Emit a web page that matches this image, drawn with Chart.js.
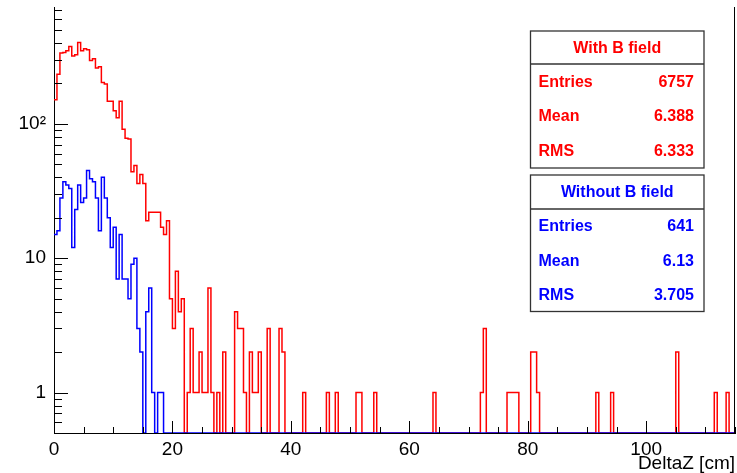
<!DOCTYPE html>
<html>
<head>
<meta charset="utf-8">
<script src="https://cdn.jsdelivr.net/npm/chart.js@4/dist/chart.umd.min.js"></script>
<style>
  html, body { margin: 0; padding: 0; background: #fff; }
  #wrap { width: 737px; height: 473px; }
</style>
</head>
<body>
<div id="wrap"><canvas id="c" width="737" height="473"></canvas></div>
<script>
// Histogram binning: 230 bins of 0.5 cm between 0 and 115 cm
const X_MIN = 0;
const X_MAX = 115;
const BIN_WIDTH = 0.5;
const Y_MIN = 0.5;
const Y_MAX = 740;

const xTickValues = [0, 20, 40, 60, 80, 100];
const yTickValues = [1, 10, 100];
const yTickLabels = ['1', '10', '10²'];

// DeltaZ counts per bin, with magnetic field
const withBField = [
  151, 234, 336, 340, 350, 376, 320, 326, 402, 350,
  362, 355, 296, 305, 260, 266, 203, 198, 147, 147,
  125, 111, 147, 91, 78, 77, 44, 49, 36, 42,
  36, 19, 22, 22, 22, 22, 17, 15, 19, 5,
  3, 8, 4, 5, 0, 1, 3, 1, 1, 2,
  1, 1, 6, 1, 0, 1, 0, 2, 0, 0,
  0, 4, 3, 3, 1, 0, 2, 1, 1, 2,
  0, 0, 3, 0, 0, 0, 3, 2, 0, 0,
  0, 0, 0, 0, 1, 0, 0, 0, 0, 0,
  0, 0, 1, 0, 0, 1, 0, 0, 0, 0,
  0, 0, 1, 1, 0, 0, 0, 0, 1, 0,
  0, 0, 0, 0, 0, 0, 0, 0, 0, 0,
  0, 0, 0, 0, 0, 0, 0, 0, 1, 0,
  0, 0, 0, 0, 0, 0, 0, 0, 0, 0,
  0, 0, 0, 0, 1, 3, 0, 0, 0, 0,
  0, 0, 0, 1, 1, 1, 1, 0, 0, 0,
  0, 2, 2, 1, 0, 0, 0, 0, 0, 0,
  0, 0, 0, 0, 0, 0, 0, 0, 0, 0,
  0, 0, 0, 1, 0, 0, 0, 0, 1, 0,
  0, 0, 0, 0, 0, 0, 0, 0, 0, 0,
  0, 0, 0, 0, 0, 0, 0, 0, 0, 0,
  2, 0, 0, 0, 0, 0, 0, 0, 0, 0,
  0, 0, 0, 1, 0, 0, 0, 1, 0, 0
];

// DeltaZ counts per bin, without magnetic field
const withoutBField = [
  15, 16, 28, 37, 35, 33, 12, 23, 35, 26,
  28, 45, 39, 37, 28, 16, 40, 28, 20, 12,
  17, 7, 15, 7, 7, 5, 9, 10, 3, 2,
  0, 4, 6, 1, 0, 1, 1, 0, 0, 0,
  0, 0, 0, 0, 0, 0, 0, 0, 0, 0,
  0, 0, 0, 0, 0, 0, 0, 0, 0, 0,
  0, 0, 0, 0, 0, 0, 0, 0, 0, 0,
  0, 0, 0, 0, 0, 0, 0, 0, 0, 0,
  0, 0, 0, 0, 0, 0, 0, 0, 0, 0,
  0, 0, 0, 0, 0, 0, 0, 0, 0, 0,
  0, 0, 0, 0, 0, 0, 0, 0, 0, 0,
  0, 0, 0, 0, 0, 0, 0, 0, 0, 0,
  0, 0, 0, 0, 0, 0, 0, 0, 0, 0,
  0, 0, 0, 0, 0, 0, 0, 0, 0, 0,
  0, 0, 0, 0, 0, 0, 0, 0, 0, 0,
  0, 0, 0, 0, 0, 0, 0, 0, 0, 0,
  0, 0, 0, 0, 0, 0, 0, 0, 0, 0,
  0, 0, 0, 0, 0, 0, 0, 0, 0, 0,
  0, 0, 0, 0, 0, 0, 0, 0, 0, 0,
  0, 0, 0, 0, 0, 0, 0, 0, 0, 0,
  0, 0, 0, 0, 0, 0, 0, 0, 0, 0,
  0, 0, 0, 0, 0, 0, 0, 0, 0, 0,
  0, 0, 0, 0, 0, 0, 0, 0, 0, 0
];

const statLabels = ['Entries', 'Mean', 'RMS'];
const statsWithB = ['6757', '6.388', '6.333'];
const statsWithoutB = ['641', '6.13', '3.705'];

const RED = '#ff0000';
const BLUE = '#0000ff';
const FONT = '"Liberation Sans", Arial, Helvetica, sans-serif';

// Step outline: one point per left bin edge, plus the closing right edge.
// Empty bins sit on the floor of the log axis, as ROOT draws them.
function histogramSteps(counts) {
  const pts = counts.map((c, i) => ({ x: X_MIN + i * BIN_WIDTH, y: Math.max(c, Y_MIN) }));
  pts.push({ x: X_MIN + counts.length * BIN_WIDTH, y: Math.max(counts[counts.length - 1], Y_MIN) });
  return pts;
}

function strokeLine(ctx, x1, y1, x2, y2) {
  ctx.beginPath();
  ctx.moveTo(x1, y1);
  ctx.lineTo(x2, y2);
  ctx.stroke();
}

function drawStatsBox(ctx, box, title, values, color) {
  ctx.save();
  ctx.fillStyle = '#fff';
  ctx.fillRect(box.left, box.top, box.right - box.left, box.bottom - box.top);
  ctx.strokeStyle = '#333';
  ctx.lineWidth = 1.3;
  ctx.strokeRect(box.left, box.top, box.right - box.left, box.bottom - box.top);
  strokeLine(ctx, box.left, box.sep, box.right, box.sep);
  ctx.fillStyle = color;
  ctx.font = 'bold 16px ' + FONT;
  ctx.textBaseline = 'middle';
  ctx.textAlign = 'center';
  ctx.fillText(title, (box.left + box.right) / 2, (box.top + box.sep) / 2 + 1);
  const rowH = (box.bottom - box.sep) / statLabels.length;
  statLabels.forEach((lab, i) => {
    const yy = box.sep + rowH * (i + 0.5) + 1;
    ctx.textAlign = 'left';
    ctx.fillText(lab, box.left + 8, yy);
    ctx.textAlign = 'right';
    ctx.fillText(values[i], box.right - 10, yy);
  });
  ctx.restore();
}

const frameAndStats = {
  id: 'frameAndStats',
  afterDraw(chart) {
    const { ctx, chartArea: a, scales: { x, y } } = chart;
    ctx.save();
    ctx.strokeStyle = '#000';
    ctx.lineWidth = 1;

    // x-axis ticks drawn inward: long every 20, short every 5
    for (let v = X_MIN; v <= X_MAX; v += 5) {
      const px = Math.round(x.getPixelForValue(v)) + 0.5;
      const len = v % 20 === 0 ? 12 : 6;
      strokeLine(ctx, px, a.bottom, px, a.bottom - len);
    }

    // y-axis log ticks drawn inward: long at decades, short in between
    for (let d = 0.1; d < Y_MAX; d *= 10) {
      for (let m = 1; m <= 9; m++) {
        const v = d * m;
        if (v < Y_MIN - 1e-9 || v > Y_MAX) continue;
        const py = Math.round(y.getPixelForValue(v)) + 0.5;
        const len = m === 1 ? 14 : 8;
        strokeLine(ctx, a.left, py, a.left + len, py);
      }
    }

    // right edge of the frame
    strokeLine(ctx, a.right - 0.5, a.top, a.right - 0.5, a.bottom);

    // axis title
    ctx.fillStyle = '#000';
    ctx.font = '19px ' + FONT;
    ctx.textAlign = 'right';
    ctx.textBaseline = 'alphabetic';
    ctx.fillText('DeltaZ [cm]', a.right, 469);
    ctx.restore();

    drawStatsBox(ctx, { left: 530.5, top: 31, right: 704, sep: 64, bottom: 168 },
      'With B field', statsWithB, RED);
    drawStatsBox(ctx, { left: 530.5, top: 175, right: 704, sep: 209, bottom: 311.5 },
      'Without B field', statsWithoutB, BLUE);
  }
};

// Keep the plot frame fixed: no extra room reserved for edge labels
function noLabelPadding(s) {
  s.paddingTop = 0;
  s.paddingBottom = 0;
  s.paddingLeft = 0;
  s.paddingRight = 0;
}

new Chart(document.getElementById('c'), {
  type: 'line',
  data: {
    datasets: [
      {
        label: 'Without B field',
        data: histogramSteps(withoutBField),
        borderColor: BLUE,
        borderWidth: 1.5,
        stepped: true,
        pointRadius: 0,
        fill: false,
        order: 0
      },
      {
        label: 'With B field',
        data: histogramSteps(withBField),
        borderColor: RED,
        borderWidth: 1.5,
        stepped: true,
        pointRadius: 0,
        fill: false,
        order: 1
      }
    ]
  },
  options: {
    responsive: false,
    animation: false,
    devicePixelRatio: 1,
    parsing: false,
    normalized: true,
    layout: { padding: { top: 7, right: 2, left: 0, bottom: 0 } },
    plugins: { legend: { display: false }, tooltip: { enabled: false } },
    scales: {
      x: {
        type: 'linear',
        min: X_MIN,
        max: X_MAX,
        afterBuildTicks: s => { s.ticks = xTickValues.map(v => ({ value: v })); },
        afterFit: s => { s.height = 40; noLabelPadding(s); },
        grid: { display: false, drawTicks: false, tickLength: 0 },
        border: { display: true, color: '#000', width: 1 },
        ticks: {
          color: '#000',
          font: { family: FONT, size: 19 },
          padding: 5,
          maxRotation: 0,
          autoSkip: false
        }
      },
      y: {
        type: 'logarithmic',
        min: Y_MIN,
        max: Y_MAX,
        afterBuildTicks: s => { s.ticks = yTickValues.map(v => ({ value: v })); },
        afterFit: s => { s.width = 54; noLabelPadding(s); },
        grid: { display: false, drawTicks: false, tickLength: 0 },
        border: { display: true, color: '#000', width: 1 },
        ticks: {
          color: '#000',
          font: { family: FONT, size: 19 },
          padding: 8,
          autoSkip: false,
          callback: (v, i) => yTickLabels[i]
        }
      }
    }
  },
  plugins: [frameAndStats]
});
</script>
</body>
</html>
